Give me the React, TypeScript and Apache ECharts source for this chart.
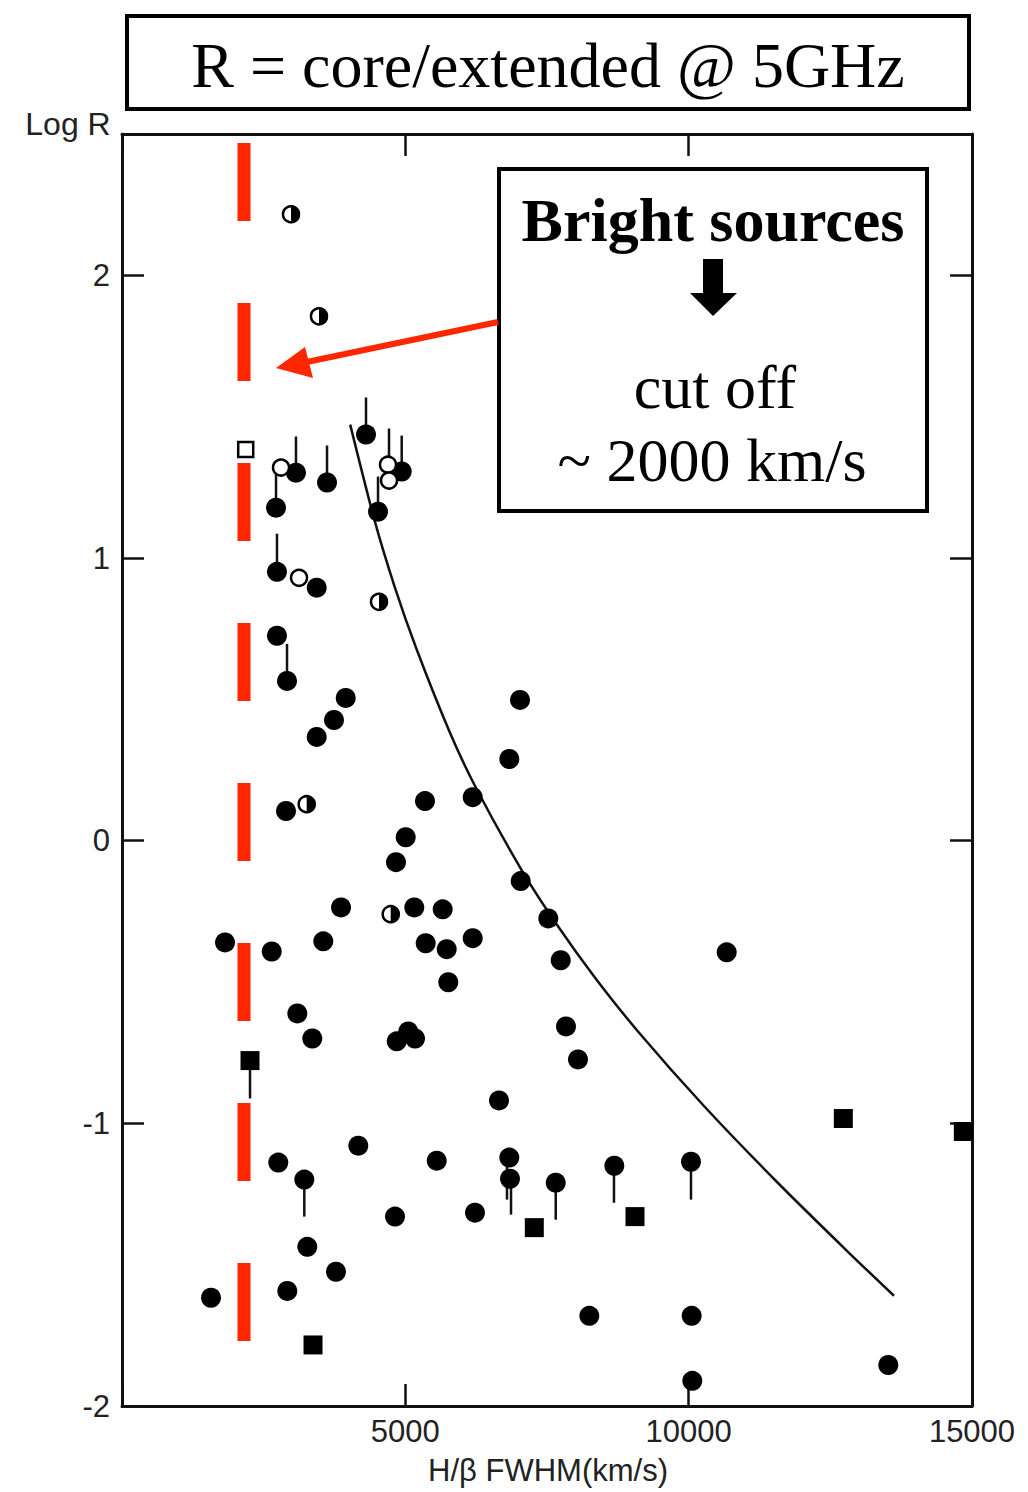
import React, { useEffect, useRef } from "react";
import * as echarts from "echarts";

// H-beta FWHM (km/s), log R
const filledCircles: number[][] = [
  [3070, 1.302], [3618, 1.267], [2718, 1.178], [4306, 1.437], [4936, 1.306], [4518, 1.164],
  [2735, 0.951], [3436, 0.895], [2735, 0.725], [2912, 0.565], [3948, 0.505], [3741, 0.427],
  [3436, 0.367], [7024, 0.498], [6835, 0.289], [2894, 0.105], [5347, 0.140], [6189, 0.154],
  [5006, 0.012], [4835, -0.076], [7036, -0.143], [3865, -0.236], [5158, -0.236], [5659, -0.243],
  [7523, -0.275], [1818, -0.360], [2642, -0.392], [3552, -0.356], [5359, -0.363], [5730, -0.384],
  [6189, -0.345], [7742, -0.423], [10671, -0.395], [5758, -0.501], [3094, -0.611], [7835, -0.657],
  [3358, -0.700], [4848, -0.710], [5052, -0.675], [5171, -0.700], [8047, -0.774], [6653, -0.919],
  [4170, -1.079], [2758, -1.139], [3217, -1.199], [5554, -1.132], [6835, -1.121], [6847, -1.196],
  [7654, -1.210], [8688, -1.150], [10041, -1.136], [4818, -1.330], [6229, -1.316], [3270, -1.437],
  [3776, -1.525], [2917, -1.593], [1571, -1.617], [8247, -1.681], [10053, -1.681], [13523, -1.855],
  [10064, -1.911],
];
const openCircles: number[][] = [
  [2806, 1.320], [4694, 1.330], [4712, 1.274], [3124, 0.930],
];
const halfCircles: number[][] = [
  [2982, 2.216], [3476, 1.855], [4535, 0.845], [3259, 0.129], [4742, -0.260],
];
const filledSquares: number[][] = [
  [2259, -0.778], [7276, -1.369], [9053, -1.330], [12729, -0.983], [14847, -1.029], [3371, -1.784],
];
const openSquares: number[][] = [[2183, 1.384]];
// limit bars: [x, y from, y to]
const limitBars: number[][] = [
  [3070, 1.302, 1.430], [3618, 1.267, 1.398], [4306, 1.437, 1.568], [4712, 1.330, 1.458],
  [4936, 1.306, 1.433], [4518, 1.164, 1.288], [2718, 1.316, 1.178], [2735, 0.951, 1.086],
  [2912, 0.696, 0.565], [2259, -0.778, -0.912], [3217, -1.199, -1.330], [6794, -1.121, -1.270],
  [6865, -1.196, -1.323], [7654, -1.210, -1.341], [8682, -1.150, -1.281], [10041, -1.136, -1.270],
];
const curvePoints: number[][] = [
  [4027, 1.472], [4456, 1.134], [4809, 0.900], [5194, 0.680], [5771, 0.390], [6221, 0.197],
  [7055, -0.105], [7694, -0.303], [8338, -0.482], [9106, -0.675], [10262, -0.937],
  [11541, -1.204], [12829, -1.458], [13623, -1.610],
];
const cutoffLine: number[][] = [[2153, 2.468], [2153, -1.777]];
const xTicks = { min: 0, max: 15000, interval: 5000 };
const yTicks = { min: -2, max: 2.5, interval: 1 };

const RED = "#ff2600";
const AXIS_FONT = "Liberation Sans";
const SERIF = "Liberation Serif";

export default function App() {
  const ref = useRef<HTMLDivElement>(null);
  useEffect(() => {
    if (!ref.current) return;
    const chart = echarts.init(ref.current, undefined, { renderer: "svg" });
    const axisLine = { show: true, onZero: false, lineStyle: { color: "#111", width: 3 } };
    const tick = { show: true, inside: true, length: 22, lineStyle: { color: "#111", width: 2.5 } };
    chart.setOption({
      animation: false,
      backgroundColor: "#fff",
      grid: { left: 122, top: 134, width: 850, height: 1272, containLabel: false },
      xAxis: [
        {
          type: "value", ...xTicks, position: "bottom",
          axisLine, axisTick: tick, splitLine: { show: false },
          axisLabel: {
            margin: 10, fontSize: 31, fontFamily: AXIS_FONT, color: "#222",
            formatter: (v: number) => (v === 0 ? "" : String(v)),
          },
        },
        {
          type: "value", ...xTicks, position: "top",
          axisLine, axisTick: tick, splitLine: { show: false },
          axisLabel: { show: false },
        },
      ],
      yAxis: [
        {
          type: "value", ...yTicks, position: "left",
          axisLine, axisTick: tick, splitLine: { show: false },
          axisLabel: {
            margin: 12, fontSize: 31, fontFamily: AXIS_FONT, color: "#222",
            formatter: (v: number) => (Number.isInteger(v) ? String(v) : ""),
          },
        },
        {
          type: "value", ...yTicks, position: "right",
          axisLine, axisTick: tick, splitLine: { show: false },
          axisLabel: { show: false },
        },
      ],
      series: [
        {
          type: "line", data: cutoffLine, symbol: "none", silent: true,
          lineStyle: { color: RED, width: 13, type: [78, 82], cap: "butt" }, z: 1,
        },
        {
          type: "line", data: curvePoints, symbol: "none", smooth: 0.25,
          lineStyle: { color: "#111", width: 2.5 }, z: 2,
        },
        {
          type: "custom", data: limitBars, z: 3,
          renderItem: (params: any, api: any) => {
            const a = api.coord([api.value(0), api.value(1)]);
            const b = api.coord([api.value(0), api.value(2)]);
            return {
              type: "line",
              shape: { x1: a[0], y1: a[1], x2: b[0], y2: b[1] },
              style: { stroke: "#111", lineWidth: 2.5 },
            };
          },
        },
        {
          type: "scatter", data: filledCircles, symbol: "circle", symbolSize: 20,
          itemStyle: { color: "#000", opacity: 1 }, z: 4,
        },
        {
          type: "scatter", data: openCircles, symbol: "circle", symbolSize: 16,
          itemStyle: { color: "#fff", borderColor: "#000", borderWidth: 2.5, opacity: 1 }, z: 5,
        },
        {
          type: "custom", data: halfCircles, z: 5,
          renderItem: (params: any, api: any) => {
            const p = api.coord([api.value(0), api.value(1)]);
            return {
              type: "group",
              children: [
                { type: "circle", shape: { cx: p[0], cy: p[1], r: 8 }, style: { fill: "#fff", stroke: "#000", lineWidth: 2.5 } },
                {
                  type: "sector",
                  shape: { cx: p[0], cy: p[1], r0: 0, r: 9, startAngle: -Math.PI / 2, endAngle: Math.PI / 2 },
                  style: { fill: "#000" },
                },
              ],
            };
          },
        },
        {
          type: "scatter", data: filledSquares, symbol: "rect", symbolSize: 19,
          itemStyle: { color: "#000", opacity: 1 }, z: 4,
        },
        {
          type: "scatter", data: openSquares, symbol: "rect", symbolSize: 15,
          itemStyle: { color: "#fff", borderColor: "#000", borderWidth: 2.5, opacity: 1 }, z: 4,
        },
      ],
      graphic: [
        {
          type: "rect", shape: { x: 127, y: 16, width: 842, height: 93 },
          style: { fill: "#fff", stroke: "#000", lineWidth: 4 }, z: 10,
        },
        {
          type: "text", z: 11,
          style: {
            text: "R = core/extended @ 5GHz", x: 548, y: 65, textAlign: "center", textVerticalAlign: "middle",
            fontFamily: SERIF, fontSize: 64, fill: "#000",
          },
        },
        {
          type: "text", z: 11,
          style: {
            text: "Log R", x: 68, y: 124, textAlign: "center", textVerticalAlign: "middle",
            fontFamily: AXIS_FONT, fontSize: 32, fill: "#222",
          },
        },
        {
          type: "text", z: 11,
          style: {
            text: "H/β FWHM(km/s)", x: 548, y: 1470, textAlign: "center", textVerticalAlign: "middle",
            fontFamily: AXIS_FONT, fontSize: 31, fill: "#222",
          },
        },
        {
          type: "rect", shape: { x: 499, y: 169, width: 428, height: 342 },
          style: { fill: "#fff", stroke: "#000", lineWidth: 4 }, z: 10,
        },
        {
          type: "text", z: 11,
          style: {
            text: "Bright sources", x: 713, y: 220, textAlign: "center", textVerticalAlign: "middle",
            fontFamily: SERIF, fontSize: 62, fontWeight: "bold", fill: "#000",
          },
        },
        {
          type: "polygon", z: 11,
          shape: { points: [[703, 259], [723, 259], [723, 293], [737, 293], [713, 316], [690, 293], [703, 293]] },
          style: { fill: "#000" },
        },
        {
          type: "text", z: 11,
          style: {
            text: "cut off", x: 715, y: 387, textAlign: "center", textVerticalAlign: "middle",
            fontFamily: SERIF, fontSize: 62, fill: "#000",
          },
        },
        {
          type: "text", z: 11,
          style: {
            text: "~ 2000 km/s", x: 712, y: 460, textAlign: "center", textVerticalAlign: "middle",
            fontFamily: SERIF, fontSize: 62, fill: "#000",
          },
        },
        {
          type: "line", z: 11,
          shape: { x1: 498, y1: 322, x2: 302, y2: 363 },
          style: { stroke: RED, lineWidth: 6 },
        },
        {
          type: "polygon", z: 11,
          shape: { points: [[276, 368], [305, 347], [313, 378]] },
          style: { fill: RED },
        },
      ],
    });
    return () => chart.dispose();
  }, []);
  return (
    <div
      ref={ref}
      style={{ position: "absolute", left: 0, top: 0, width: 1028, height: 1492, background: "#fff" }}
    />
  );
}
